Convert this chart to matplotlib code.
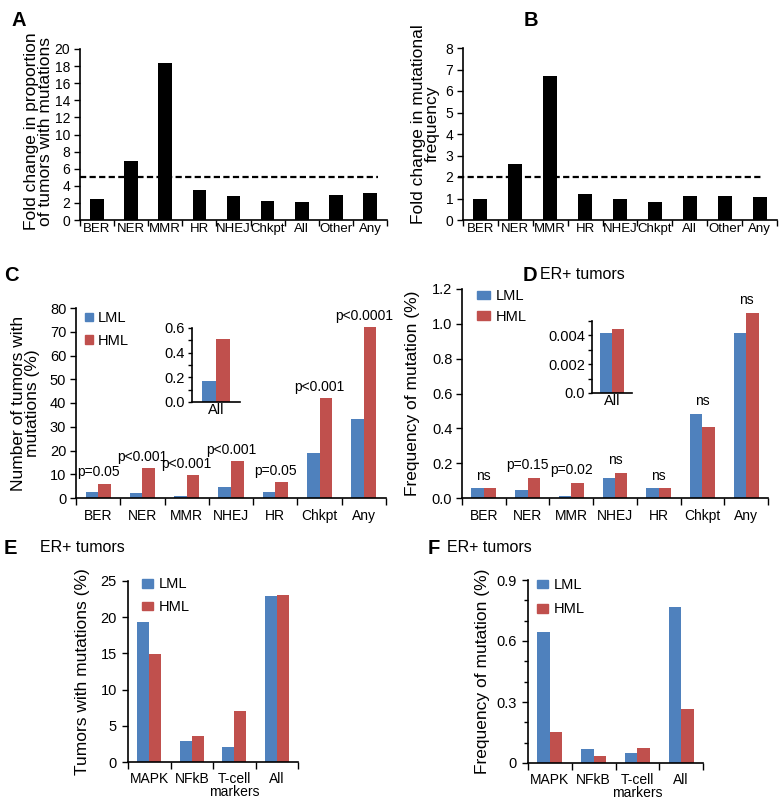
import matplotlib
matplotlib.use("Agg")
import matplotlib.pyplot as plt
from matplotlib.patches import Patch
from matplotlib.ticker import MultipleLocator, FixedLocator
import numpy as np

plt.rcParams['font.family'] = ['Liberation Sans', 'DejaVu Sans']

# ---------------- data ----------------
cats_ab = ["BER", "NER", "MMR", "HR", "NHEJ", "Chkpt", "All", "Other", "Any"]
fold_prop = [2.5, 6.9, 18.4, 3.5, 2.8, 2.2, 2.1, 2.9, 3.1]
fold_freq = [0.97, 2.6, 6.7, 1.22, 0.97, 0.85, 1.12, 1.1, 1.05]
thresh_a = 5
thresh_b = 2

cats_cd = ["BER", "NER", "MMR", "NHEJ", "HR", "Chkpt", "Any"]
c_lml = [2.5, 2.0, 0.7, 4.5, 2.5, 18.9, 33.4]
c_hml = [6.1, 12.7, 9.7, 15.7, 6.6, 42.0, 71.8]
c_p = ["p=0.05", "p<0.001", "p<0.001", "p<0.001", "p=0.05", "p<0.001", "p<0.0001"]
c_inset_cat = ["All"]
c_inset_lml = [0.17]
c_inset_hml = [0.51]

d_lml = [0.057, 0.045, 0.012, 0.116, 0.057, 0.485, 0.948]
d_hml = [0.057, 0.116, 0.086, 0.144, 0.057, 0.410, 1.064]
d_p = ["ns", "p=0.15", "p=0.02", "ns", "ns", "ns", "ns"]
d_inset_cat = ["All"]
d_inset_lml = [0.0042]
d_inset_hml = [0.00447]

cats_ef = ["MAPK", "NFkB", "T-cell\nmarkers", "All"]
e_lml = [19.3, 2.85, 2.06, 22.9]
e_hml = [14.95, 3.6, 7.1, 23.1]
f_lml = [0.645, 0.069, 0.051, 0.767]
f_hml = [0.151, 0.034, 0.074, 0.264]

series = ["LML", "HML"]
BLUE = "#4F81BD"
RED = "#C0504D"

W, H = 779, 800
fig = plt.figure(figsize=(W / 100, H / 100), dpi=100)


def add_ax(l, r, t, b):
    return fig.add_axes([l / W, 1 - b / H, (r - l) / W, (b - t) / H])


def style(ax, ytick_fs=10, xtick_fs=9.5, xpad=7, ypad=3):
    for s in ("top", "right"):
        ax.spines[s].set_visible(False)
    for s in ("left", "bottom"):
        ax.spines[s].set_linewidth(1.2)
    ax.tick_params(axis="y", which="major", direction="out", length=4, width=1,
                   labelsize=ytick_fs, pad=ypad)
    ax.tick_params(axis="y", which="minor", direction="out", length=3, width=1)
    ax.tick_params(axis="x", which="major", length=0, labelsize=xtick_fs, pad=xpad)
    ax.tick_params(axis="x", which="minor", direction="out", length=5, width=1)


def cat_axis(ax, n):
    ax.set_xlim(-0.5, n - 0.5)
    ax.set_xticks(np.arange(n))
    ax.xaxis.set_minor_locator(FixedLocator(np.arange(n + 1) - 0.5))


# ---------------- A ----------------
axA = add_ax(80, 387, 49, 220)
xa = np.arange(len(cats_ab))
axA.bar(xa, fold_prop, width=0.4, color="black")
cat_axis(axA, len(cats_ab))
axA.set_xticklabels(cats_ab)
axA.set_ylim(0, 20)
axA.yaxis.set_major_locator(MultipleLocator(2))
style(axA, ytick_fs=10, xtick_fs=9.5, xpad=2)
axA.tick_params(axis="x", which="minor", length=4)
axA.plot([-0.5, 8.24], [thresh_a, thresh_a], color="black", lw=1.6,
         ls=(0, (2.8, 1.5)), clip_on=False)
axA.set_ylabel("Fold change in proportion\nof tumors with mutations", fontsize=12.5,
               linespacing=0.95)
axA.yaxis.set_label_coords(-0.088, 0.52)

# ---------------- B ----------------
axB = add_ax(463, 777, 48, 220)
axB.bar(xa, fold_freq, width=0.4, color="black")
cat_axis(axB, len(cats_ab))
axB.set_xticklabels(cats_ab)
axB.set_ylim(0, 8)
axB.yaxis.set_major_locator(MultipleLocator(1))
style(axB, ytick_fs=10, xtick_fs=9.5, xpad=2)
axB.tick_params(axis="x", which="minor", length=4)
axB.plot([-0.64, 8.1], [thresh_b, thresh_b], color="black", lw=1.6,
         ls=(0, (2.8, 1.5)), clip_on=False)
axB.set_ylabel("Fold change in mutational\nfrequency", fontsize=12.5, linespacing=0.95)
axB.yaxis.set_label_coords(-0.073, 0.56)


def grouped(ax, lml, hml, width=0.285):
    x = np.arange(len(lml))
    ax.bar(x - width / 2, lml, width=width, color=BLUE)
    ax.bar(x + width / 2, hml, width=width, color=RED)
    return x


def legend(ax, bx, by, fs=10.5, hl=0.6, hh=0.6, ls=0.5):
    handles = [Patch(color=BLUE, label=series[0]), Patch(color=RED, label=series[1])]
    ax.legend(handles=handles, loc="upper left", bbox_to_anchor=(bx, by),
              frameon=False, fontsize=fs, handlelength=hl, handleheight=hh,
              labelspacing=ls, handletextpad=0.35, borderaxespad=0, borderpad=0)


# ---------------- C ----------------
axC = add_ax(76, 386, 308, 498)
xc = grouped(axC, c_lml, c_hml)
cat_axis(axC, len(cats_cd))
axC.set_xticklabels(cats_cd)
axC.set_ylim(0, 80)
axC.yaxis.set_major_locator(MultipleLocator(10))
style(axC, ytick_fs=10.5, xtick_fs=10, xpad=8)
for i, lab in enumerate(c_p):
    axC.annotate(lab, (xc[i], max(c_lml[i], c_hml[i])), xytext=(0, 3),
                 textcoords="offset points", ha="center", va="bottom", fontsize=10)
axC.set_ylabel("Number of tumors with\nmutations (%)", fontsize=12.5, linespacing=0.95)
axC.yaxis.set_label_coords(-0.116, 0.5)
legend(axC, 0.03, 0.985, fs=10.5, hl=0.5, hh=0.5, ls=0.6)

axCi = add_ax(192, 240, 328, 402)
grouped(axCi, c_inset_lml, c_inset_hml, width=0.29)
cat_axis(axCi, 1)
axCi.set_xticklabels(c_inset_cat)
axCi.set_ylim(0, 0.6)
axCi.yaxis.set_major_locator(MultipleLocator(0.2))
axCi.yaxis.set_minor_locator(MultipleLocator(0.1))
axCi.yaxis.set_major_formatter(matplotlib.ticker.FormatStrFormatter("%.1f"))
style(axCi, ytick_fs=10.5, xtick_fs=10.5, xpad=1, ypad=2)
axCi.tick_params(axis="x", which="minor", length=0)
axCi.tick_params(axis="y", which="both", length=3)

# ---------------- D ----------------
axD = add_ax(462, 768, 289, 498)
xd = grouped(axD, d_lml, d_hml)
cat_axis(axD, len(cats_cd))
axD.set_xticklabels(cats_cd)
axD.set_ylim(0, 1.2)
axD.yaxis.set_major_locator(MultipleLocator(0.2))
axD.yaxis.set_major_formatter(matplotlib.ticker.FormatStrFormatter("%.1f"))
style(axD, ytick_fs=10.5, xtick_fs=10, xpad=8)
for i, lab in enumerate(d_p):
    axD.annotate(lab, (xd[i], max(d_lml[i], d_hml[i])), xytext=(0, 4),
                 textcoords="offset points", ha="center", va="bottom", fontsize=10)
axD.set_ylabel("Frequency of mutation (%)", fontsize=12.5)
axD.yaxis.set_label_coords(-0.137, 0.5)
legend(axD, 0.05, 1.0, fs=10.5, hl=0.9, hh=0.5, ls=0.45)

axDi = add_ax(592, 632, 321, 393)
grouped(axDi, d_inset_lml, d_inset_hml, width=0.3)
cat_axis(axDi, 1)
axDi.set_xticklabels(d_inset_cat)
axDi.set_ylim(0, 0.005)
axDi.yaxis.set_major_locator(FixedLocator([0, 0.002, 0.004]))
axDi.yaxis.set_minor_locator(FixedLocator([0.001, 0.003, 0.005]))
axDi.set_yticklabels(["0.0", "0.002", "0.004"])
style(axDi, ytick_fs=10.5, xtick_fs=10.5, xpad=1, ypad=2)
axDi.tick_params(axis="x", which="minor", length=0)
axDi.tick_params(axis="y", which="both", length=3)

# ---------------- E ----------------
axE = add_ax(128, 298, 581, 762)
grouped(axE, e_lml, e_hml)
cat_axis(axE, len(cats_ef))
axE.set_xticklabels(cats_ef, linespacing=0.9)
axE.set_ylim(0, 25)
axE.yaxis.set_major_locator(MultipleLocator(5))
style(axE, ytick_fs=10.5, xtick_fs=10, xpad=7, ypad=4)
axE.set_ylabel("Tumors with mutations (%)", fontsize=12.5)
axE.yaxis.set_label_coords(-0.224, 0.5)
legend(axE, 0.08, 1.02, fs=10.5, hl=0.8, hh=0.55, ls=0.6)

# ---------------- F ----------------
axF = add_ax(528, 703, 580, 763)
grouped(axF, f_lml, f_hml)
cat_axis(axF, len(cats_ef))
axF.set_xticklabels(cats_ef, linespacing=0.9)
axF.set_ylim(0, 0.9)
axF.yaxis.set_major_locator(FixedLocator([0, 0.3, 0.6, 0.9]))
axF.yaxis.set_minor_locator(MultipleLocator(0.1))
axF.set_yticklabels(["0", "0.3", "0.6", "0.9"])
style(axF, ytick_fs=10.5, xtick_fs=10, xpad=7, ypad=4)
axF.set_ylabel("Frequency of mutation (%)", fontsize=12.5)
axF.yaxis.set_label_coords(-0.217, 0.5)
legend(axF, 0.05, 1.01, fs=10.5, hl=0.8, hh=0.55, ls=0.7)

# ---------------- panel letters / titles ----------------
def letter(x, y, s):
    fig.text(x / W, 1 - y / H, s, fontsize=14.5, fontweight="bold", va="top", ha="left")


def title(x, y, s):
    fig.text(x / W, 1 - y / H, s, fontsize=11.5, va="top", ha="left")


letter(11, 11, "A")
letter(524, 11, "B")
letter(4, 266, "C")
letter(523, 266, "D")
title(540, 267, "ER+ tumors")
letter(4, 539, "E")
title(40, 540, "ER+ tumors")
letter(428, 539, "F")
title(447, 540, "ER+ tumors")

fig.savefig("out.png", dpi=100)
